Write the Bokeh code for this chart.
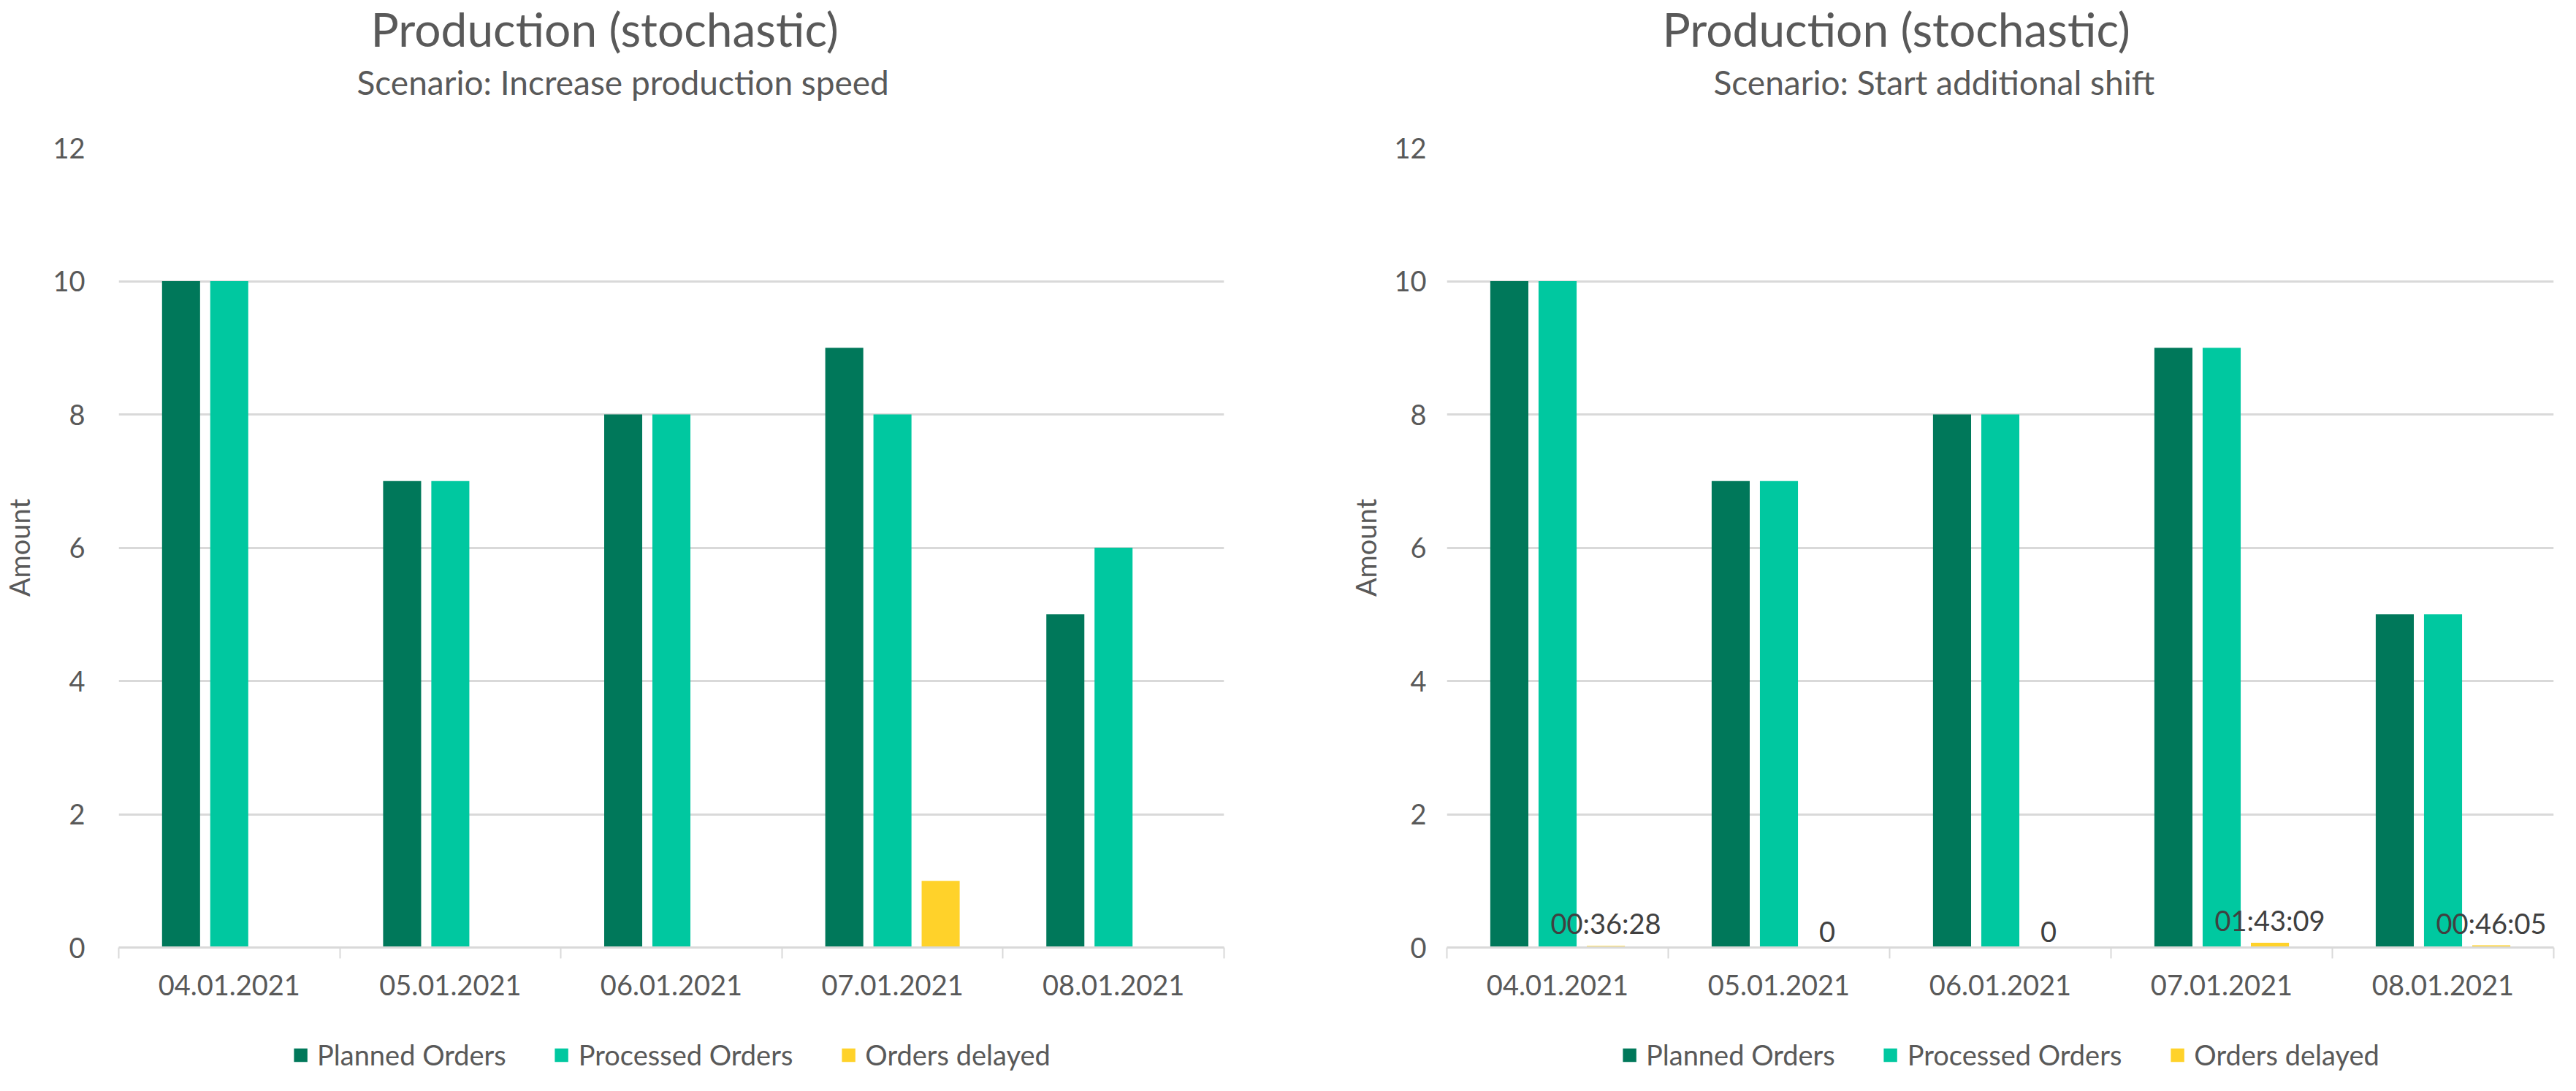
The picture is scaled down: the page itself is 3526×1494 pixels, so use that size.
from bokeh.plotting import figure
from bokeh.models import (ColumnDataSource, Range1d, LinearAxis,
                          FixedTicker, Legend, LegendItem, LabelSet, Title)
from bokeh.core.properties import value
from bokeh.transform import dodge
from bokeh.layouts import row, column
from bokeh.embed import file_html
from bokeh.resources import INLINE

# ---------------- data ----------------
dates = ["04.01.2021", "05.01.2021", "06.01.2021", "07.01.2021", "08.01.2021"]
series_names = ["Planned Orders", "Processed Orders", "Orders delayed"]

left_planned = [10, 7, 8, 9, 5]
left_processed = [10, 7, 8, 8, 6]
left_delayed = [0, 0, 0, 1, 0]

right_planned = [10, 7, 8, 9, 5]
right_processed = [10, 7, 8, 9, 5]
right_delayed_labels = ["00:36:28", "0", "0", "01:43:09", "00:46:05"]

y_ticks = [0, 2, 4, 6, 8, 10, 12]

titles = ["Production (stochastic)", "Production (stochastic)"]
subtitles = ["Scenario: Increase production speed", "Scenario: Start additional shift"]
y_label = "Amount"

# ---------------- style ----------------
COLORS = ["#00785A", "#00C8A0", "#FFD22A"]
TXT = "#595959"
GRID = "#D9D9D9"
FONT = "Lato"
CHART_H = 1392
LEGEND_H = 86


def to_days(s):
    if ":" in s:
        h, m, sec = (int(v) for v in s.split(":"))
        return (h * 3600 + m * 60 + sec) / 86400.0
    return float(s)


right_delayed = [to_days(s) for s in right_delayed_labels]


def make_chart(title, subtitle, planned, processed, delayed, labels,
               width, bl, br, t_off, s_off, ylab_standoff, tick_standoff):
    n = len(dates)
    centers = [i + 0.5 for i in range(n)]
    src = ColumnDataSource(dict(x=centers, planned=planned, processed=processed,
                                delayed=delayed,
                                lab=labels if labels else [""] * n))
    p = figure(x_range=Range1d(0, n), y_range=Range1d(0, 12),
               width=width, height=CHART_H, output_backend="svg", toolbar_location=None,
               x_axis_location=None, title=None,
               min_border_left=bl, min_border_right=br, min_border_top=202,
               min_border_bottom=95)
    p.outline_line_color = None
    p.background_fill_color = "white"
    p.border_fill_color = "white"

    # y axis
    p.yaxis.ticker = FixedTicker(ticks=y_ticks)
    p.yaxis.axis_line_color = None
    p.yaxis.major_tick_line_color = None
    p.yaxis.minor_tick_line_color = None
    p.yaxis.major_label_text_font = FONT
    p.yaxis.major_label_text_font_size = "38px"
    p.yaxis.major_label_text_color = TXT
    p.yaxis.major_label_standoff = tick_standoff
    p.yaxis.axis_label = y_label
    p.yaxis.axis_label_text_font = FONT
    p.yaxis.axis_label_text_font_size = "38px"
    p.yaxis.axis_label_text_font_style = "normal"
    p.yaxis.axis_label_text_color = TXT
    p.yaxis.axis_label_standoff = ylab_standoff
    p.ygrid.grid_line_color = GRID
    p.ygrid.grid_line_width = 3
    for g in p.xgrid:
        g.visible = False

    # x axis: labels at category centres, tick marks at category edges
    x_ax = LinearAxis(ticker=FixedTicker(ticks=centers, minor_ticks=list(range(n + 1))),
                      major_label_overrides={c: d for c, d in zip(centers, dates)},
                      axis_line_color=GRID, axis_line_width=3,
                      major_tick_line_color=None, major_tick_in=0, major_tick_out=0,
                      minor_tick_line_color=GRID, minor_tick_line_width=2,
                      minor_tick_in=0, minor_tick_out=15,
                      major_label_text_font=FONT, major_label_text_font_size="38px",
                      major_label_text_color=TXT, major_label_standoff=22)
    p.add_layout(x_ax, "below")

    bw = 0.172
    off = 0.218
    p.vbar(x=dodge("x", -off), top="planned", width=bw,
           source=src, fill_color=COLORS[0], line_color=None)
    p.vbar(x=dodge("x", 0.0), top="processed", width=bw,
           source=src, fill_color=COLORS[1], line_color=None)
    p.vbar(x=dodge("x", off), top="delayed", width=bw,
           source=src, fill_color=COLORS[2], line_color=None)

    if labels:
        ls = LabelSet(x=dodge("x", off), y="delayed", text="lab",
                      source=src, text_align="center", text_baseline="bottom",
                      y_offset=8, text_font=value(FONT), text_font_size="38px",
                      text_color="#404040")
        p.add_layout(ls)

    sub = Title(text=subtitle, align="left", offset=s_off, text_font=FONT,
                text_font_size="46px", text_font_style="normal", text_color=TXT,
                standoff=125)
    p.add_layout(sub, "above")
    main = Title(text=title, align="left", offset=t_off, text_font=FONT,
                 text_font_size="64px", text_font_style="normal", text_color=TXT,
                 standoff=-115)
    p.add_layout(main, "above")
    return p


def make_legend(width, bl, br):
    q = figure(x_range=Range1d(0, 1), y_range=Range1d(0, 1), width=width, height=LEGEND_H,
               output_backend="svg", toolbar_location=None, x_axis_location=None,
               y_axis_location=None, title=None, min_border=0,
               min_border_left=bl, min_border_right=br, min_border_top=18,
               min_border_bottom=0)
    q.outline_line_color = None
    q.background_fill_color = "white"
    q.border_fill_color = "white"
    q.xgrid.visible = False
    q.ygrid.visible = False
    # zero-size swatch carriers for the legend entries
    rs = [q.vbar(x=[0], top=[0], bottom=[0], width=0, fill_color=c, line_color=None)
          for c in COLORS]
    legend = Legend(items=[LegendItem(label=nm, renderers=[r]) for nm, r in zip(series_names, rs)],
                    orientation="horizontal", location="center",
                    glyph_width=23, glyph_height=23, label_standoff=12, spacing=64,
                    padding=0, margin=0, border_line_color=None,
                    background_fill_alpha=0,
                    label_text_font=FONT, label_text_font_size="38px",
                    label_text_color=TXT)
    q.add_layout(legend, "center")
    return q


left = make_chart(titles[0], subtitles[0], left_planned, left_processed, left_delayed, None,
                  1760, 160, 85, 345, 326, 20, 40)
right = make_chart(titles[1], subtitles[1], right_planned, right_processed, right_delayed,
                   right_delayed_labels, 1750, 220, 15, 295, 365, 13, 22)
left_leg = make_legend(1760, 0, 62)
right_leg = make_legend(1750, 96, 0)

layout = row(column(left, left_leg), column(right, right_leg))
open("out.html", "w").write(file_html(layout, INLINE))
